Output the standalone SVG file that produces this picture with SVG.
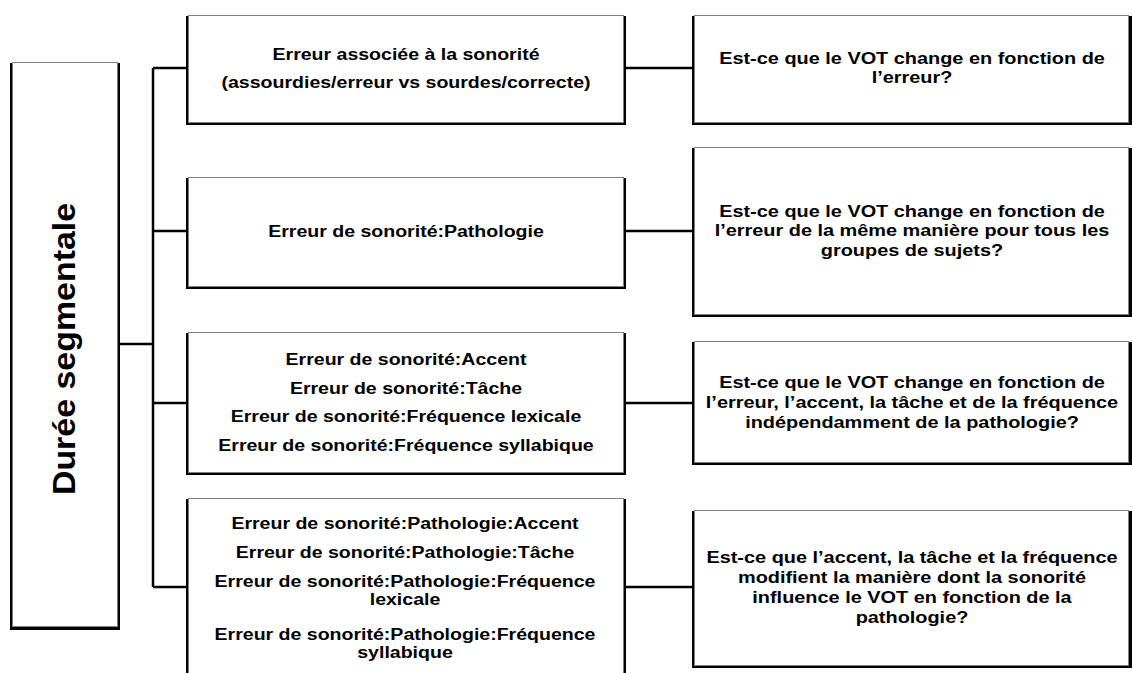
<svg xmlns="http://www.w3.org/2000/svg" width="1132" height="673" viewBox="0 0 1132 673">
<style>
.sh{fill:#000}
.bx{fill:#fff;stroke:#808080;stroke-width:1}
.t{font-family:"Liberation Sans",Arial,sans-serif;font-weight:bold;font-size:17px;fill:#000;text-anchor:middle}
.big{font-family:"Liberation Sans",Arial,sans-serif;font-weight:bold;font-size:32px;fill:#000;text-anchor:middle}
.c{stroke:#000;stroke-width:2.5;fill:none}
</style>
<rect width="1132" height="673" fill="#fff"/>
<g id="connectors">
<path class="c" d="M119 344 H153 M153 68 V587 M153 68 H187 M153 231 H187 M153 403 H187 M153 587 H187 M625 68 H693 M625 231 H693 M625 403 H693 M625 587 H693"/>
</g>
<g id="root">
<rect class="sh" x="10" y="63" width="110" height="567"/>
<rect class="bx" x="12.5" y="62.5" width="105" height="564"/>
<text class="big" transform="translate(75,349) rotate(-90) scale(1.06,1)">Durée segmentale</text>
</g>
<g id="m1">
<rect class="sh" x="186" y="16" width="440" height="109"/>
<rect class="bx" x="188.5" y="15.5" width="435" height="107"/>
<text class="t" transform="translate(406,60) scale(1.15,1)"><tspan x="0" y="0">Erreur associée à la sonorité</tspan><tspan x="0" y="28.5">(assourdies/erreur vs sourdes/correcte)</tspan></text>
</g>
<g id="m2">
<rect class="sh" x="186" y="178" width="440" height="111"/>
<rect class="bx" x="188.5" y="177.5" width="435" height="109"/>
<text class="t" transform="translate(406,237) scale(1.15,1)">Erreur de sonorité:Pathologie</text>
</g>
<g id="m3">
<rect class="sh" x="186" y="333" width="440" height="142"/>
<rect class="bx" x="188.5" y="332.5" width="435" height="140"/>
<text class="t" transform="translate(406,365) scale(1.15,1)"><tspan x="0" y="0">Erreur de sonorité:Accent</tspan><tspan x="0" y="28.7">Erreur de sonorité:Tâche</tspan><tspan x="0" y="57.4">Erreur de sonorité:Fréquence lexicale</tspan><tspan x="0" y="86.1">Erreur de sonorité:Fréquence syllabique</tspan></text>
</g>
<g id="m4">
<rect class="sh" x="186" y="499" width="440" height="182"/>
<rect class="bx" x="188.5" y="498.5" width="435" height="180"/>
<text class="t" transform="translate(405,529) scale(1.15,1)"><tspan x="0" y="0">Erreur de sonorité:Pathologie:Accent</tspan><tspan x="0" y="29">Erreur de sonorité:Pathologie:Tâche</tspan><tspan x="0" y="58">Erreur de sonorité:Pathologie:Fréquence</tspan><tspan x="0" y="76">lexicale</tspan><tspan x="0" y="111.5">Erreur de sonorité:Pathologie:Fréquence</tspan><tspan x="0" y="129.5">syllabique</tspan></text>
</g>
<g id="r1">
<rect class="sh" x="692" y="16" width="440" height="109"/>
<rect class="bx" x="694.5" y="15.5" width="434" height="107"/>
<text class="t" transform="translate(912,64) scale(1.17,1)"><tspan x="0" y="0">Est-ce que le VOT change en fonction de</tspan><tspan x="0" y="19.5">l’erreur?</tspan></text>
</g>
<g id="r2">
<rect class="sh" x="692" y="148" width="440" height="169"/>
<rect class="bx" x="694.5" y="147.5" width="434" height="167"/>
<text class="t" transform="translate(912,217) scale(1.17,1)"><tspan x="0" y="0">Est-ce que le VOT change en fonction de</tspan><tspan x="0" y="19.5">l’erreur de la même manière pour tous les</tspan><tspan x="0" y="39">groupes de sujets?</tspan></text>
</g>
<g id="r3">
<rect class="sh" x="692" y="342" width="440" height="123"/>
<rect class="bx" x="694.5" y="341.5" width="434" height="121"/>
<text class="t" transform="translate(912,388) scale(1.17,1)"><tspan x="0" y="0">Est-ce que le VOT change en fonction de</tspan><tspan x="0" y="20">l’erreur, l’accent, la tâche et de la fréquence</tspan><tspan x="0" y="40">indépendamment de la pathologie?</tspan></text>
</g>
<g id="r4">
<rect class="sh" x="692" y="511" width="440" height="157"/>
<rect class="bx" x="694.5" y="510.5" width="434" height="155"/>
<text class="t" transform="translate(912,563) scale(1.17,1)"><tspan x="0" y="0">Est-ce que l’accent, la tâche et la fréquence</tspan><tspan x="0" y="20">modifient la manière dont la sonorité</tspan><tspan x="0" y="40">influence le VOT en fonction de la</tspan><tspan x="0" y="60">pathologie?</tspan></text>
</g>
</svg>
